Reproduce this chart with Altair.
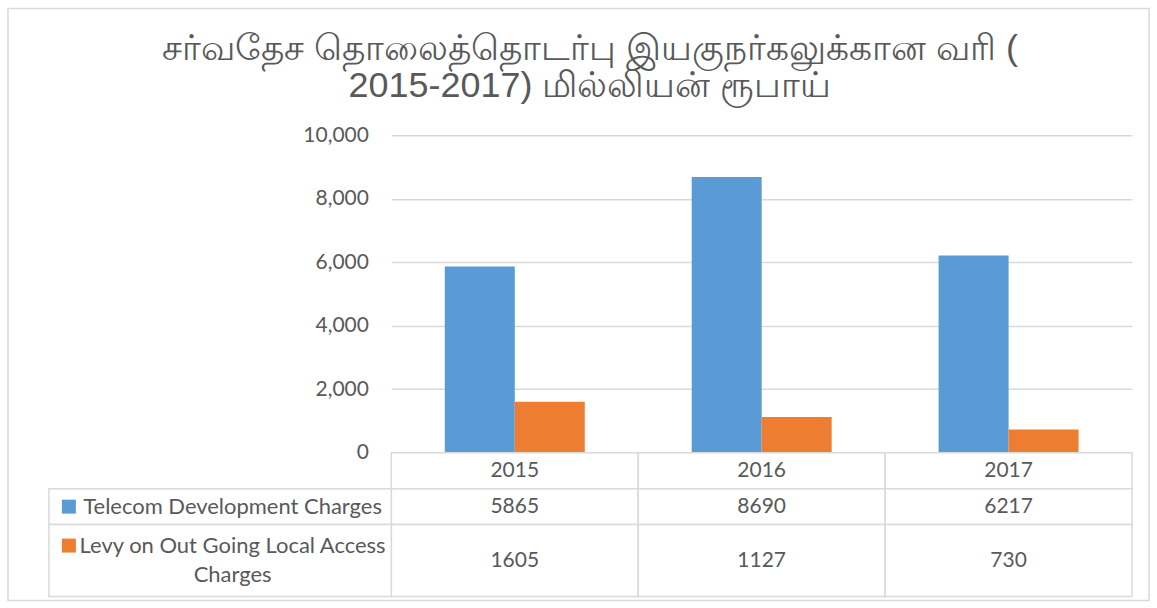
import altair as alt
import pandas as pd

years = ["2015", "2016", "2017"]
series = ["Telecom Development Charges", "Levy on Out Going Local Access Charges"]
row_labels = ["Telecom Development Charges", "Levy on Out Going Local Access\nCharges"]
tdc = [5865, 8690, 6217]
levy = [1605, 1127, 730]
colors = ["#5B9BD5", "#ED7D31"]
y_ticks = [0, 2000, 4000, 6000, 8000, 10000]
title_lines = ["சர்வதேச தொலைத்தொடர்பு இயகுநர்கலுக்கான வரி (",
               "2015-2017) மில்லியன் ரூபாய்"]

rows = []
for s, vals in zip(series, [tdc, levy]):
    for yr, v in zip(years, vals):
        rows.append({"year": yr, "series": s, "value": v})
df = pd.DataFrame(rows)
lab_df = pd.DataFrame({"series": series, "label": row_labels})
year_df = pd.DataFrame({"year": years})
title_df = pd.DataFrame({"title": ["\n".join(title_lines)]})

FONT = "Lato"
FS = 21
TXT = "#595959"
GRID = "#D9D9D9"

xscale = alt.Scale(domain=years, paddingInner=0, paddingOuter=0)
color = alt.Color("series:N", scale=alt.Scale(domain=series, range=colors), legend=None)

bar_marks = alt.Chart(df).mark_bar().encode(
    x=alt.X("year:N", scale=xscale, axis=None),
    xOffset=alt.XOffset("series:N", scale=alt.Scale(domain=series, paddingInner=0, paddingOuter=0.764)),
    y=alt.Y("value:Q", scale=alt.Scale(domain=[0, 10000]),
            axis=alt.Axis(title=None, values=y_ticks, format=",.0f", grid=True, gridColor=GRID,
                          gridWidth=1.5, domain=False, ticks=False, labelPadding=23,
                          labelFontSize=FS, labelColor=TXT, labelFont=FONT)),
    color=color,
)
title_mark = alt.Chart(title_df).mark_text(
    font="Liberation Sans", fontSize=36, color=TXT, align="center", baseline="middle",
    lineBreak="\n", lineHeight=37).encode(
    x=alt.value(199), y=alt.value(-86), text="title:N")
bars = alt.layer(bar_marks, title_mark).properties(width=742, height=318)

# header row of the data table (years)
header = alt.layer(
    alt.Chart(year_df).mark_rect(fill="white", stroke=GRID, strokeWidth=1.5).encode(
        x=alt.X("year:N", scale=xscale, axis=None)),
    alt.Chart(year_df).mark_text(font=FONT, fontSize=FS, color=TXT).encode(
        x=alt.X("year:N", scale=xscale, axis=None), text="year:N"),
).properties(width=742, height=36)


def row_chart(idx, h, frame=False):
    d = df[df["series"] == series[idx]]
    ld = lab_df[lab_df["series"] == series[idx]]
    cells = alt.Chart(d).mark_rect(fill="white", stroke=GRID, strokeWidth=1.5).encode(
        x=alt.X("year:N", scale=xscale, axis=None))
    vals = alt.Chart(d).mark_text(font=FONT, fontSize=FS, color=TXT).encode(
        x=alt.X("year:N", scale=xscale, axis=None), text="value:Q")
    labcell = alt.Chart(ld).mark_rect(fill="white", stroke=GRID, strokeWidth=1.5).encode(
        x=alt.value(-343), x2=alt.value(0))
    labtext = alt.Chart(ld).mark_text(font=FONT, fontSize=22, color=TXT, align="center",
                                      baseline="middle", lineBreak="\n",
                                      lineHeight=29, dy=-15 if idx == 1 else 0).encode(
        x=alt.value(-159), text="label:N")
    square = alt.Chart(ld).mark_point(shape="square", filled=True, size=196, opacity=1).encode(
        x=alt.value(-323), color=color)
    if idx == 1:
        square = square.encode(y=alt.value(h / 2 - 15))
    layers = [cells, vals, labcell, labtext, square]
    if frame:
        # outer chart-area border
        layers.append(alt.Chart(ld).mark_rect(fill=None, filled=False, stroke=GRID, strokeWidth=1.5).encode(
            x=alt.value(-384), x2=alt.value(759), y=alt.value(-517), y2=alt.value(76)))
    return alt.layer(*layers).properties(width=742, height=h)


chart = alt.vconcat(bars, header, row_chart(0, 36), row_chart(1, 72, frame=True),
                    spacing=0, bounds="flush").properties(
    padding={"left": 7, "right": 7, "top": 7, "bottom": 8},
).configure_view(stroke=None)

chart.save("out.html", embed_options={"renderer": "svg", "actions": False})
